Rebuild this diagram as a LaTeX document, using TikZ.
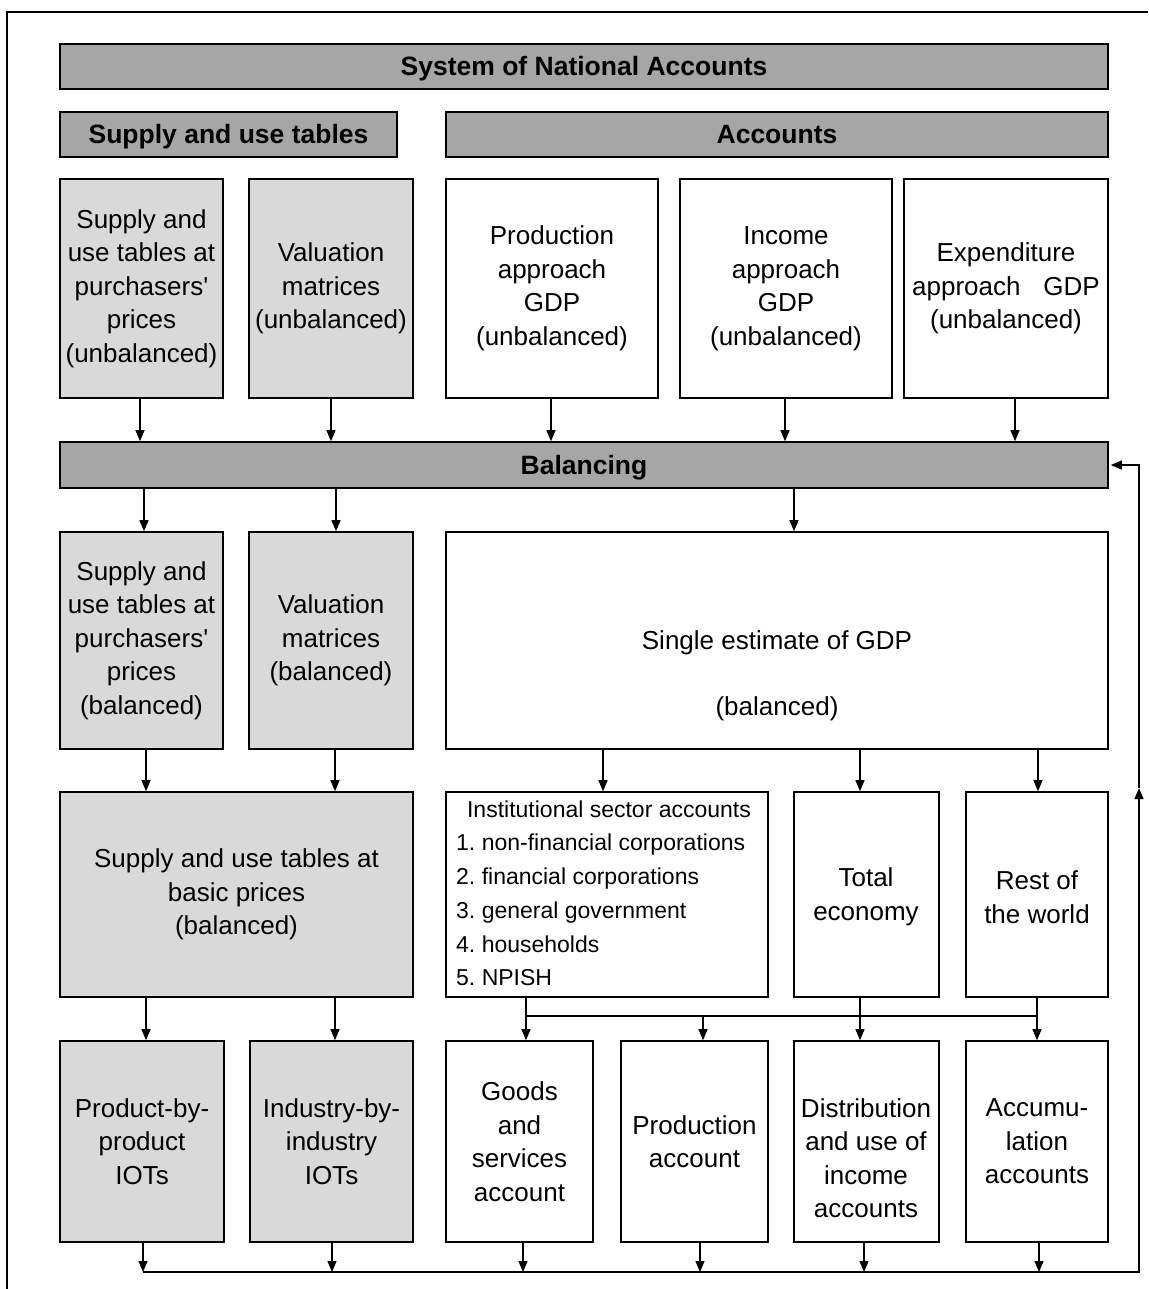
\documentclass[tikz,border=0pt]{standalone}
\usepackage{fontspec}
\setmainfont{Liberation Sans}
\usetikzlibrary{arrows.meta}
\definecolor{dg}{HTML}{A6A6A6}
\definecolor{lg}{HTML}{D9D9D9}
\frenchspacing
\newcommand{\bx}[7]{\node[#2, minimum width={#5-#3}, minimum height={#6-#4}] (#1) at ({(#3+#5)/2},{(#4+#6)/2}) {#7};}
\begin{document}
\begin{tikzpicture}[x=1pt,y=-1pt,
  font=\fontsize{26}{33.5}\selectfont,
  box/.style={draw, line width=1.6pt, inner sep=0pt, align=center},
  hdr/.style={box, fill=dg, font=\fontsize{26.5}{33.5}\selectfont\bfseries, text height=19pt, text depth=0pt},
  lbox/.style={box, fill=lg},
  wbox/.style={box, fill=white},
  arr/.style={line width=1.1pt, -{Triangle[length=11pt,width=9pt]}},
  ln/.style={line width=1.1pt},
  small/.style={font=\fontsize{23}{33.8}\selectfont, inner sep=0pt}]
\useasboundingbox (0,0) rectangle (1148,1289);
\draw[line width=2pt] (7,1289) -- (7,12) -- (1148,12);
% headers
\bx{sna}{hdr}{60}{44}{1108}{89}{System of National Accounts}
\bx{suth}{hdr}{60}{112}{397}{157}{Supply and use tables}
\bx{acch}{hdr}{446}{112}{1108}{157}{Accounts}
% row 1
\bx{sutp1}{lbox}{60}{179}{223}{398}{Supply and\\use tables at\\purchasers\textquotesingle\\prices\\(unbalanced)}
\bx{val1}{lbox}{249}{179}{413}{398}{Valuation\\matrices\\(unbalanced)}
\bx{prod1}{wbox}{446}{179}{658}{398}{Production\\approach\\GDP\\(unbalanced)}
\bx{inc1}{wbox}{680}{179}{892}{398}{Income\\approach\\GDP\\(unbalanced)}
\bx{exp1}{wbox}{904}{179}{1108}{398}{Expenditure\\approach\hspace{0.6em} GDP\\(unbalanced)}
% balancing
\bx{bal}{hdr}{60}{442}{1108}{488}{Balancing}
% row 2
\bx{sutp2}{lbox}{60}{532}{223}{749}{Supply and\\use tables at\\purchasers\textquotesingle\\prices\\(balanced)}
\bx{val2}{lbox}{249}{532}{413}{749}{Valuation\\matrices\\(balanced)}
\bx{sing}{wbox}{446}{532}{1108}{749}{}
\node[align=center, inner sep=0pt] (singt) at (777,676) {Single estimate of GDP\\[33pt](balanced)};
% row 3
\bx{sutb}{lbox}{60}{792}{413}{997}{Supply and use tables at\\basic prices\\(balanced)}
\bx{inst}{wbox}{446}{792}{768}{997}{}
\node[small] (instt) at (609,809) {Institutional sector accounts};
\node[small, align=left, anchor=west] (instl) at (456,910) {1. non-financial corporations\\2. financial corporations\\3. general government\\4. households\\5. NPISH};
\bx{tot}{wbox}{794}{792}{939}{997}{}
\node[align=center, inner sep=0pt] (tott) at (866,897) {Total\\economy};
\bx{rest}{wbox}{966}{792}{1108}{997}{}
\node[align=center, inner sep=0pt] (restt) at (1037,897) {Rest of\\the world};
% row 4
\bx{pp}{lbox}{60}{1041}{224}{1242}{Product-by-\\product\\IOTs}
\bx{ii}{lbox}{250}{1041}{413}{1242}{Industry-by-\\industry\\IOTs}
\bx{goods}{wbox}{446}{1041}{593}{1242}{Goods\\and\\services\\account}
\bx{pacc}{wbox}{621}{1041}{768}{1242}{Production\\account}
\bx{dist}{wbox}{794}{1041}{939}{1242}{}
\node[align=center, inner sep=0pt] (distt) at (866,1158) {Distribution\\and use of\\income\\accounts};
\bx{acc}{wbox}{966}{1041}{1108}{1242}{Accumu-\\lation\\accounts}
% coordinates
\coordinate (j1) at (526,1016);
\coordinate (j2) at (1037,1016);
\coordinate (b1) at (143,1272);
\coordinate (b2) at (1139,1272);
\coordinate (b3) at (1139,788);
% row1 -> balancing
\draw[arr] (140,0 |- sutp1.south) -- (140,0 |- bal.north);
\draw[arr] (331,0 |- val1.south) -- (331,0 |- bal.north);
\draw[arr] (551,0 |- prod1.south) -- (551,0 |- bal.north);
\draw[arr] (785,0 |- inc1.south) -- (785,0 |- bal.north);
\draw[arr] (1015,0 |- exp1.south) -- (1015,0 |- bal.north);
% balancing -> row2
\draw[arr] (144,0 |- bal.south) -- (144,0 |- sutp2.north);
\draw[arr] (336,0 |- bal.south) -- (336,0 |- val2.north);
\draw[arr] (794,0 |- bal.south) -- (794,0 |- sing.north);
% row2 -> row3
\draw[arr] (146,0 |- sutp2.south) -- (146,0 |- sutb.north);
\draw[arr] (335,0 |- val2.south) -- (335,0 |- sutb.north);
\draw[arr] (603,0 |- sing.south) -- (603,0 |- inst.north);
\draw[arr] (860,0 |- sing.south) -- (860,0 |- tot.north);
\draw[arr] (1038,0 |- sing.south) -- (1038,0 |- rest.north);
% row3 -> row4
\draw[arr] (146,0 |- sutb.south) -- (146,0 |- pp.north);
\draw[arr] (335,0 |- sutb.south) -- (335,0 |- ii.north);
\draw[arr] (526,0 |- inst.south) -- (526,0 |- goods.north);
\draw[ln] (j1) -- (j2);
\draw[arr] (703,0 |- j1) -- (703,0 |- pacc.north);
\draw[arr] (860,0 |- tot.south) -- (860,0 |- dist.north);
\draw[arr] (1037,0 |- rest.south) -- (1037,0 |- acc.north);
% row4 -> feedback line
\draw[arr] (143,0 |- pp.south) -- (b1);
\draw[arr] (332,0 |- ii.south) -- (332,0 |- b1);
\draw[arr] (523,0 |- goods.south) -- (523,0 |- b1);
\draw[arr] (700,0 |- pacc.south) -- (700,0 |- b1);
\draw[arr] (864,0 |- dist.south) -- (864,0 |- b1);
\draw[arr] (1039,0 |- acc.south) -- (1039,0 |- b1);
\draw[arr] (b1) -- (b2) -- (b3);
\draw[arr] (b3) |- ([xshift=2pt]bal.east);
\end{tikzpicture}
\end{document}
